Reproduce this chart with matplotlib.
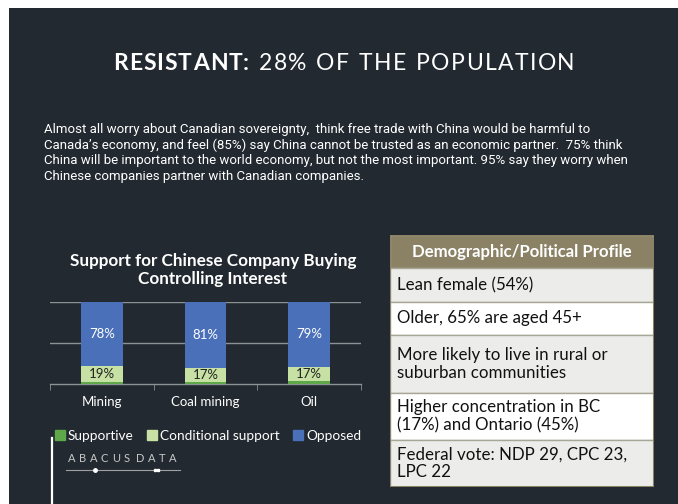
import matplotlib
matplotlib.use("Agg")
import matplotlib.pyplot as plt
from matplotlib import font_manager
from matplotlib.patches import Rectangle
from matplotlib.lines import Line2D

# data
categories = ["Mining", "Coal mining", "Oil"]
supportive = [3, 2, 4]
conditional = [19, 17, 17]
opposed = [78, 81, 79]
series_names = ["Supportive", "Conditional support", "Opposed"]

profile_header = "Demographic/Political Profile"
profile_rows = [
    "Lean female (54%)",
    "Older, 65% are aged 45+",
    "More likely to live in rural or\nsuburban communities",
    "Higher concentration in BC\n(17%) and Ontario (45%)",
    "Federal vote: NDP 29, CPC 23,\nLPC 22",
]

heading_bold = "RESISTANT:"
heading_rest = " 28% OF THE POPULATION"
summary = ("Almost all worry about Canadian sovereignty,  think free trade with China would be harmful to\n"
           "Canada\u2019s economy, and feel (85%) say China cannot be trusted as an economic partner.  75% think\n"
           "China will be important to the world economy, but not the most important. 95% say they worry when\n"
           "Chinese companies partner with Canadian companies.")

BG = "#222930"
C_SUP = "#5ea84a"
C_COND = "#c6e1a3"
C_OPP = "#4a70b9"

installed = {f.name for f in font_manager.fontManager.ttflist}
NARROW = "Liberation Sans Narrow" if "Liberation Sans Narrow" in installed else "Roboto"
plt.rcParams["font.family"] = ["Lato", "DejaVu Sans"]

W, H = 678, 504
fig = plt.figure(figsize=(W / 100, H / 100), dpi=100, facecolor="white")
renderer = fig.canvas.get_renderer()


def fx(x):
    return x / W


def fy(y):
    return 1 - y / H


def px_axes(left, top, right, bottom, **kw):
    return fig.add_axes([fx(left), fy(bottom), (right - left) / W, (bottom - top) / H], **kw)


def tracked(x, y, s, gap, **kw):
    # place characters one at a time with extra letter spacing (pixels)
    for ch in s:
        t = fig.text(fx(x), fy(y), ch, va="center", ha="left", **kw)
        w = t.get_window_extent(renderer).width if ch.strip() else \
            fig.text(0, 0, "n", alpha=0, **kw).get_window_extent(renderer).width * 0.55
        x += w + gap
    return x


# slide background
fig.add_artist(Rectangle((fx(9), 0), 1 - fx(9), fy(8), transform=fig.transFigure,
                         facecolor=BG, edgecolor="none", zorder=-10))

# heading
xe = tracked(113, 64, heading_bold, 1.0, color="white", fontsize=16.5, fontweight="bold")
tracked(xe, 64, heading_rest, 1.4, color="white", fontsize=16.5)

fig.text(fx(44), fy(122.5), summary, color="white", fontsize=9.5, family=NARROW,
         va="top", ha="left", linespacing=1.27)

# stacked bar chart
ax = px_axes(50, 302, 361, 384)
ax.set_facecolor(BG)
x = range(len(categories))
bottom2 = [s + c for s, c in zip(supportive, conditional)]
ax.bar(x, supportive, width=0.4, color=C_SUP, zorder=3)
ax.bar(x, conditional, width=0.4, bottom=supportive, color=C_COND, zorder=3)
ax.bar(x, opposed, width=0.4, bottom=bottom2, color=C_OPP, zorder=3)
for i in x:
    ax.text(i, supportive[i] + conditional[i] / 2, f"{conditional[i]}%", ha="center",
            va="center", fontsize=9.5, color="#222222", zorder=4)
    ax.text(i, bottom2[i] + opposed[i] / 2, f"{opposed[i]}%", ha="center",
            va="center", fontsize=9.5, color="white", zorder=4)
ax.set_xlim(-0.5, 2.5)
ax.set_ylim(0, 100)
ax.set_yticks([50, 100])
ax.yaxis.grid(True, color="#8c9196", linewidth=1)
ax.tick_params(axis="y", length=0, labelleft=False)
for s in ["top", "left", "right"]:
    ax.spines[s].set_visible(False)
ax.spines["bottom"].set_color("#8c9196")
ax.spines["bottom"].set_linewidth(1)
ax.set_xticks(list(x))
ax.set_xticklabels(categories, color="white", fontsize=9.5)
ax.set_xticks([-0.5, 0.5, 1.5, 2.5], minor=True)
ax.tick_params(axis="x", which="major", length=0, pad=9)
ax.tick_params(axis="x", which="minor", length=4, color="#8c9196", direction="out")

fig.text(fx(213), fy(270), "Support for Chinese Company Buying\nControlling Interest",
         color="white", fontsize=12.3, fontweight="bold", ha="center", va="center",
         linespacing=1.2)

# legend
handles = [Rectangle((0, 0), 1, 1, color=c) for c in (C_SUP, C_COND, C_OPP)]
fig.legend(handles, series_names, loc="center left", bbox_to_anchor=(fx(55), fy(436)),
           ncol=3, frameon=False, fontsize=9.8, labelcolor="white", handlelength=0.7,
           handleheight=0.7, handletextpad=0.25, columnspacing=1.0, borderaxespad=0,
           borderpad=0)

# vertical rule and logo
fig.add_artist(Line2D([fx(52), fx(52)], [fy(438), 0], transform=fig.transFigure,
                      color="white", linewidth=1.6))
tracked(68, 458, "ABACUS", 3.6, color="#c8c8c8", fontsize=8)
tracked(136, 458, "DATA", 3.6, color="#c8c8c8", fontsize=8)
fig.add_artist(Line2D([fx(66), fx(180)], [fy(470), fy(470)], transform=fig.transFigure,
                      color="#a0a0a0", linewidth=0.8))
fig.add_artist(Line2D([fx(95)], [fy(470)], transform=fig.transFigure, marker="o",
                      markersize=2.5, color="white", linestyle="none"))
fig.add_artist(Line2D([fx(154.5), fx(157.5)], [fy(470), fy(470)], transform=fig.transFigure,
                      marker="s", markersize=2, color="white", linestyle="none"))

# profile table
tx0, tx1, ty0, ty1 = 390, 654, 235, 487
axt = px_axes(tx0, ty0, tx1, ty1)
axt.set_xlim(0, tx1 - tx0)
axt.set_ylim(ty1 - ty0, 0)
axt.axis("off")
edges = [0, 33, 67, 100, 158, 205, 252]
fills = ["#8b8266", "#ecedea", "#ffffff", "#ecedea", "#ffffff", "#ecedea"]
for k in range(len(edges) - 1):
    axt.add_patch(Rectangle((0, edges[k]), tx1 - tx0, edges[k + 1] - edges[k],
                            facecolor=fills[k], edgecolor="#a8a697", linewidth=1))
axt.add_patch(Rectangle((0, 0), tx1 - tx0, ty1 - ty0, facecolor="none",
                        edgecolor="#8b8266", linewidth=1.5))
axt.text((tx1 - tx0) / 2, edges[1] / 2, profile_header, color="white", fontsize=12.1,
         fontweight="bold", ha="center", va="center")
for k, row in enumerate(profile_rows):
    mid = (edges[k + 1] + edges[k + 2]) / 2
    axt.text(7, mid, row, color="#111111", fontsize=12.2, ha="left", va="center",
             linespacing=1.15)

fig.savefig("out.png", dpi=100, facecolor=fig.get_facecolor())
